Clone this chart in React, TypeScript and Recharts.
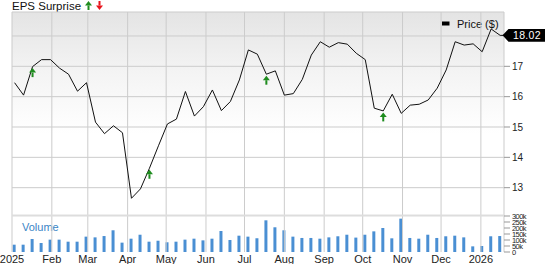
import React from "react";
import {
  ComposedChart,
  Line,
  Bar,
  XAxis,
  YAxis,
  ReferenceDot,
  ReferenceLine,
} from "recharts";

// Weekly closing prices ($), week ending Jan 3 2025 ... Jan 16 2026
const prices = [
  16.46, 16.05, 16.99, 17.22, 17.22, 16.94, 16.74, 16.18, 16.46, 15.16,
  14.78, 15.04, 14.81, 12.65, 12.96, 13.64, 14.38, 15.1, 15.26, 16.17,
  15.36, 15.67, 16.22, 15.54, 15.84, 16.55, 17.54, 17.4, 16.74, 16.85,
  16.05, 16.1, 16.57, 17.37, 17.81, 17.63, 17.78, 17.73, 17.43, 17.22,
  15.62, 15.53, 16.08, 15.45, 15.72, 15.75, 15.89, 16.28, 16.88, 17.81,
  17.7, 17.74, 17.48, 18.23, 18.02,
];

// Weekly volume (thousands)
const volumesK = [
  61, 61, 108, 75, 103, 103, 86, 86, 128, 122, 133, 181, 78, 111, 144, 86,
  94, 81, 86, 103, 111, 97, 111, 175, 100, 136, 128, 114, 264, 206, 181,
  128, 117, 117, 111, 122, 131, 144, 120, 144, 172, 200, 114, 278, 117, 111,
  144, 117, 131, 136, 122, 47, 50, 131, 133,
];

// Weeks (0-based) with a positive EPS surprise
const epsBeatWeeks = [2, 15, 28, 41];

const lastPrice = 18.02;
const firstDay = 2; // days since Jan 1 2025
const lastDay = 383;
const priceMin = 10.88;
const priceMax = 18.79;

const monthTicks = [0, 31, 59, 90, 120, 151, 181, 212, 243, 273, 304, 334, 365];
const monthLabels = ["2025", "Feb", "Mar", "Apr", "May", "Jun", "Jul", "Aug", "Sep", "Oct", "Nov", "Dec", "2026"];
const priceTicks = [13, 14, 15, 16, 17, 18];
const volumeTicks = [0, 50000, 100000, 150000, 200000, 250000, 300000];

const data = [
  ...prices.map((p, i) => ({
    day: firstDay + i * 7,
    price: p,
    volume: volumesK[i] * 1000,
  })),
  { day: lastDay, price: lastPrice, volume: null as number | null },
];

const FONT = "'Liberation Sans', Arial, sans-serif";
const GRID = "#cccccc";
const TICK = "#999999";

const UpArrow = (props: any) => {
  const { cx, cy } = props;
  const t = cy + 1.5;
  return (
    <g>
      <polygon points={`${cx},${t} ${cx - 3.5},${t + 4.5} ${cx + 3.5},${t + 4.5}`} fill="#1e8c1e" />
      <rect x={cx - 1} y={t + 4.5} width={2} height={4.5} fill="#1e8c1e" />
    </g>
  );
};

const PriceTag = (props: any) => {
  const { cx, cy } = props;
  return (
    <g>
      <polygon
        points={`${cx - 1.5},${cy} ${cx + 4.5},${cy - 6.3} ${cx + 41},${cy - 6.3} ${cx + 41},${cy + 6.3} ${cx + 4.5},${cy + 6.3}`}
        fill="#000"
      />
      <text x={cx + 9} y={cy} dy="0.36em" fill="#fff" fontSize={10.5} fontFamily={FONT} letterSpacing={0.3}>
        {lastPrice.toFixed(2)}
      </text>
    </g>
  );
};

// a straight rule along the reference line's viewBox, drawn as a filled rect
const rule = (color: string, w = 1) => (props: any) => {
  const vb = props.viewBox || {};
  const wd = vb.width || 0;
  const ht = vb.height || 0;
  if (wd >= ht) return <rect x={vb.x} y={vb.y - w / 2} width={wd} height={w} fill={color} />;
  return <rect x={vb.x - w / 2} y={vb.y} width={w} height={ht} fill={color} />;
};

// price gridline + right-side tick mark + label (18 is covered by the last-price tag)
const priceLabel = (v: number) => (props: any) => {
  const vb = props.viewBox || {};
  const x0 = vb.x + vb.width;
  const y = vb.y;
  return (
    <g>
      <rect x={vb.x} y={y - 0.5} width={vb.width} height={1} fill={GRID} />
      <rect x={x0} y={y - 0.5} width={6} height={1} fill={TICK} />
      {v === 18 ? null : (
        <text x={x0 + 8} y={y} dy="0.355em" fontSize={10} fill="#222" fontFamily={FONT}>
          {v}
        </text>
      )}
    </g>
  );
};

// volume axis tick mark + label
const volLabel = (v: number) => (props: any) => {
  const vb = props.viewBox || {};
  const x0 = vb.x + vb.width;
  const y = vb.y;
  return (
    <g>
      <rect x={x0} y={y - 0.5} width={6} height={1} fill={TICK} />
      <text x={x0 + 8} y={y} dy="0.355em" fontSize={7.5} fill="#222" fontFamily={FONT} letterSpacing={-0.6}>
        {v === 0 ? "0" : `${v / 1000}k`}
      </text>
    </g>
  );
};

export default function App() {
  return (
    <div style={{ position: "absolute", left: 0, top: 0, width: 545, height: 264, fontFamily: FONT }}>
      <div
        style={{
          position: "absolute",
          left: 12,
          top: 12,
          width: 492,
          height: 203,
          background: "linear-gradient(to bottom, #e4e4e4 0%, #f4f4f4 30%, #ffffff 60%, #ffffff 100%)",
        }}
      />
      <div style={{ position: "absolute", left: 0, top: 0 }}>
        <ComposedChart
          width={545}
          height={264}
          data={data}
          margin={{ top: 12, right: 41, bottom: 0, left: 12 }}
        >
          <XAxis
            dataKey="day"
            type="number"
            domain={[0, lastDay]}
            ticks={monthTicks}
            tickFormatter={(v: number) => monthLabels[monthTicks.indexOf(v)]}
            tickLine={false}
            axisLine={false}
            tickSize={0}
            tickMargin={3}
            height={12}
            interval={0}
            tick={{ fontSize: 11, fill: "#222", fontFamily: FONT }}
            allowDataOverflow
          />
          <YAxis yAxisId="vol" hide domain={[0, 2000000]} allowDataOverflow />
          <YAxis yAxisId="price" hide domain={[priceMin, priceMax]} allowDataOverflow />
          {monthTicks.map((m) => (
            <ReferenceLine key={`vx${m}`} yAxisId="vol" x={m} stroke="none" label={rule(GRID)} />
          ))}
          <ReferenceLine yAxisId="vol" x={lastDay} stroke="none" label={rule(GRID)} />
          <ReferenceLine yAxisId="price" y={priceMax} stroke="none" label={rule(GRID)} />
          {priceTicks.map((t) => (
            <ReferenceLine key={`hy${t}`} yAxisId="price" y={t} stroke="none" label={priceLabel(t)} />
          ))}
          <ReferenceLine yAxisId="vol" y={304000} stroke="none" label={rule("#dddddd", 2)} />
          {volumeTicks.map((v) => (
            <ReferenceLine key={`vt${v}`} yAxisId="vol" y={v} stroke="none" label={volLabel(v)} />
          ))}
          <Bar yAxisId="vol" dataKey="volume" fill="#4a8fd3" barSize={3} isAnimationActive={false} />
          <Line
            yAxisId="price"
            dataKey="price"
            type="linear"
            stroke="#111"
            strokeWidth={1}
            dot={false}
            isAnimationActive={false}
          />
          {epsBeatWeeks.map((w) => (
            <ReferenceDot
              key={w}
              yAxisId="price"
              x={firstDay + w * 7}
              y={prices[w]}
              shape={UpArrow}
              ifOverflow="visible"
            />
          ))}
          <ReferenceDot yAxisId="price" x={lastDay} y={lastPrice} shape={PriceTag} ifOverflow="visible" />
          <text x={12} y={10} fontSize={11.5} fill="#111" fontFamily={FONT}>
            EPS Surprise
          </text>
          <g>
            <polygon points="88.5,1 85,5.5 92,5.5" fill="#1e8c1e" />
            <rect x={87.5} y={5.5} width={2} height={4.5} fill="#1e8c1e" />
            <polygon points="99.5,10 96,5.5 103,5.5" fill="#e8141c" />
            <rect x={98.5} y={1} width={2} height={4.5} fill="#e8141c" />
          </g>
          <rect x={442} y={21.5} width={7.5} height={4} fill="#000" />
          <text x={457} y={27.5} fontSize={11} fill="#111" fontFamily={FONT}>
            Price ($)
          </text>
          <text x={22} y={230.5} fontSize={11} fill="#3a85c6" fontFamily={FONT}>
            Volume
          </text>
        </ComposedChart>
      </div>
    </div>
  );
}
